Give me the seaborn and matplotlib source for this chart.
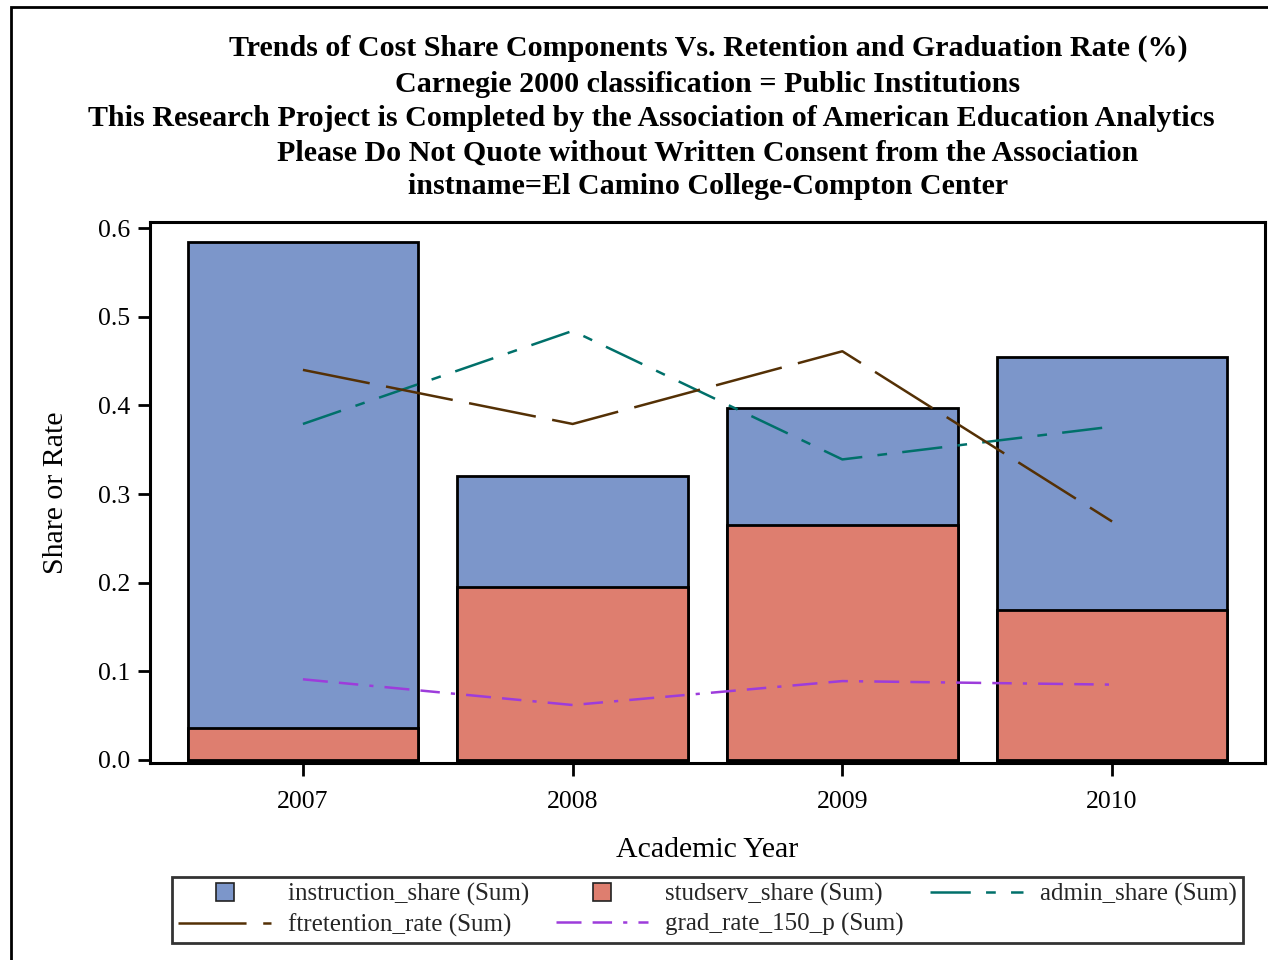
import numpy as np
import pandas as pd
import matplotlib
matplotlib.use("Agg")
import matplotlib.pyplot as plt
from matplotlib.lines import Line2D
from matplotlib.patches import Rectangle
import seaborn as sns

# ---- data ----
years = ["2007", "2008", "2009", "2010"]
instruction_share = [0.584, 0.320, 0.397, 0.454]
studserv_share = [0.036, 0.195, 0.265, 0.169]
admin_share = [0.379, 0.484, 0.339, 0.376]
ftretention_rate = [0.440, 0.379, 0.461, 0.269]
grad_rate_150_p = [0.091, 0.062, 0.089, 0.085]

title_lines = [
    "Trends of Cost Share Components Vs. Retention and Graduation Rate (%)",
    "Carnegie 2000 classification = Public Institutions",
    "This Research Project is Completed by the Association of American Education Analytics",
    "Please Do Not Quote without Written Consent from the Association",
    "instname=El Camino College-Compton Center",
]

# ---- style ----
sns.set_theme(style="white")
plt.rcParams["font.family"] = ["Liberation Serif", "DejaVu Serif"]
plt.rcParams["lines.scale_dashes"] = False

W, H = 1268, 960
fig = plt.figure(figsize=(W / 100, H / 100), dpi=100)
fig.patch.set_facecolor("white")

def fx(px):
    return px / W

def fy(py):
    return 1 - py / H

AX_L, AX_R, AX_T, AX_B = 150, 1265, 222, 763
ax = fig.add_axes([fx(AX_L), fy(AX_B), fx(AX_R) - fx(AX_L), fy(AX_T) - fy(AX_B)])

df = pd.DataFrame({
    "year": years,
    "instruction_share": instruction_share,
    "studserv_share": studserv_share,
})

c_inst = "#7C96CA"
c_stud = "#DE7E6F"
c_admin = "#00706A"
c_ftret = "#543005"
c_grad = "#9D3CDB"

sns.barplot(data=df, x="year", y="instruction_share", color=c_inst, saturation=1,
            width=0.855, edgecolor="black", linewidth=2.0, ax=ax, errorbar=None)
sns.barplot(data=df, x="year", y="studserv_share", color=c_stud, saturation=1,
            width=0.855, edgecolor="black", linewidth=2.0, ax=ax, errorbar=None)

pos = np.arange(len(years))
dash_admin = (0, (29, 11, 7, 11))
dash_ftret = (0, (49, 12))
dash_grad = (0, (18, 8, 14, 8, 3, 8))

for vals, col, ds in [(admin_share, c_admin, dash_admin),
                      (ftretention_rate, c_ftret, dash_ftret),
                      (grad_rate_150_p, c_grad, dash_grad)]:
    n_before = len(ax.lines)
    sns.lineplot(x=pos, y=vals, color=col, linewidth=1.8, ax=ax)
    for ln in ax.lines[n_before:]:
        ln.set_linestyle(ds)

ax.set_xlim(-0.567, 3.567)
ax.set_ylim(-0.0034, 0.6068)
ax.set_yticks([0.0, 0.1, 0.2, 0.3, 0.4, 0.5, 0.6])
ax.set_yticklabels(["0.0", "0.1", "0.2", "0.3", "0.4", "0.5", "0.6"])
ax.set_xticks(pos)
ax.set_xticklabels(years)
ax.tick_params(axis="both", which="major", labelsize=18.5, length=9, width=2,
               color="black", labelcolor="black", direction="out",
               bottom=True, left=True)
ax.tick_params(axis="x", pad=11)
ax.tick_params(axis="y", pad=5)
for sp in ax.spines.values():
    sp.set_visible(True)
    sp.set_color("black")
    sp.set_linewidth(2.2)
ax.set_xlabel("Academic Year", fontsize=21.5, color="black", va="center")
ax.set_ylabel("Share or Rate", fontsize=21.5, color="black", va="center")
ax.xaxis.set_label_coords(0.5, (AX_B - 850) / (AX_B - AX_T))
ax.yaxis.set_label_coords((56 - AX_L) / (AX_R - AX_L), 0.5)

# titles (third line is shifted left in the reference to fit the page)
ty = [48, 84, 118, 153, 187]
tx = [708, 708, 651, 708, 708]
for t, x, y in zip(title_lines, tx, ty):
    fig.text(fx(x), fy(y), t, ha="center", va="center", fontsize=21.6,
             fontweight="bold", color="black")

# legend
handles = [
    Line2D([], [], linestyle="none", marker="s", markersize=13,
           markerfacecolor=c_inst, markeredgecolor="#222222", markeredgewidth=1.2),
    Line2D([], [], color=c_ftret, linewidth=1.8, linestyle=dash_ftret),
    Line2D([], [], linestyle="none", marker="s", markersize=13,
           markerfacecolor=c_stud, markeredgecolor="#222222", markeredgewidth=1.2),
    Line2D([], [], color=c_grad, linewidth=1.8, linestyle=dash_grad),
    Line2D([], [], color=c_admin, linewidth=1.8, linestyle=dash_admin),
]
labels = [
    "instruction_share (Sum)",
    "ftretention_rate (Sum)",
    "studserv_share (Sum)",
    "grad_rate_150_p (Sum)",
    "admin_share (Sum)",
]
leg = fig.legend(handles, labels, ncol=3, loc="center",
                 bbox_to_anchor=(fx(172), fy(942), fx(1243) - fx(172), fy(878) - fy(942)),
                 mode="expand", fontsize=18, frameon=True, fancybox=False,
                 edgecolor="black", handlelength=3.7, handletextpad=0.68,
                 borderpad=0.25, labelspacing=0.28, columnspacing=1.0,
                 borderaxespad=0)
leg.get_frame().set_linewidth(2.0)

# outer border
fig.patches.append(Rectangle((fx(11), -0.1), 1.2, fy(7) + 0.1, transform=fig.transFigure,
                             fill=False, edgecolor="black", linewidth=2.0))

fig.savefig("out.png", dpi=100)
